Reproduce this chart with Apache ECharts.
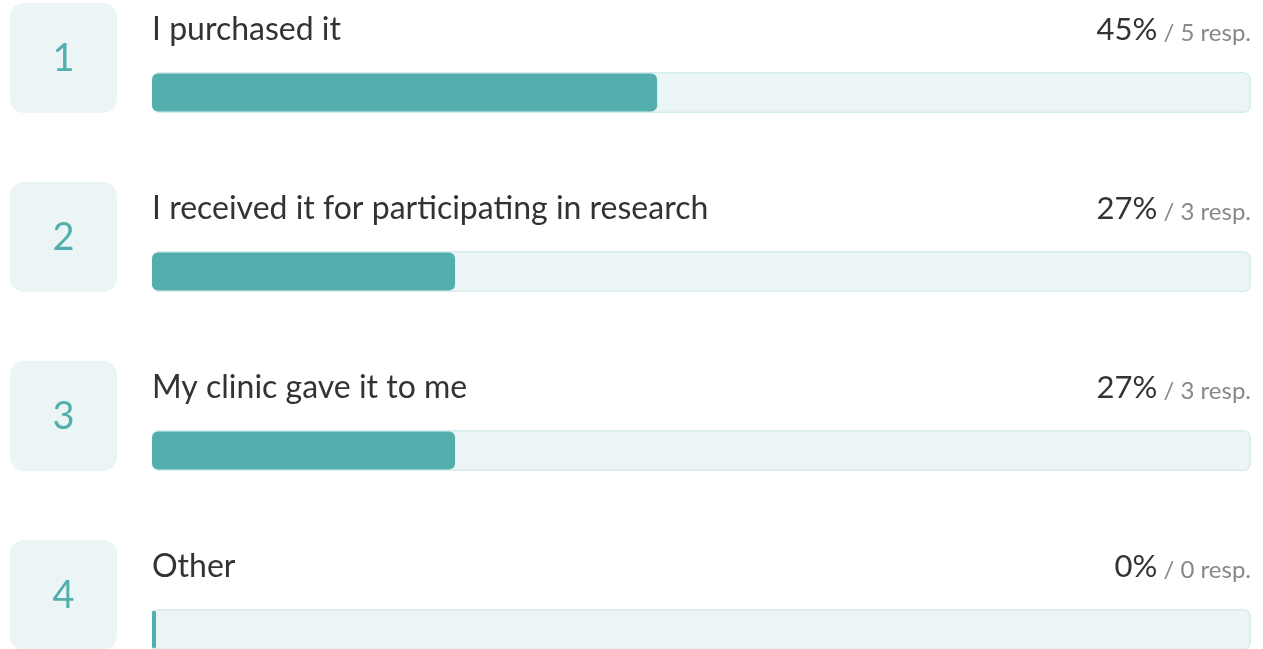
<!DOCTYPE html>
<html>
<head>
<meta charset="utf-8">
<script src="https://cdn.jsdelivr.net/npm/echarts@6/dist/echarts.min.js"></script>
<style>
html,body{margin:0;padding:0;background:#fff;}
#chart{width:1263px;height:649px;}
</style>
</head>
<body>
<div id="chart"></div>
<script>
const categories = ['I purchased it', 'I received it for participating in research', 'My clinic gave it to me', 'Other'];
const rankLabels = ['1', '2', '3', '4'];
const shareValues = [45.5, 27.3, 27.3, 0];
const percentLabels = ['45%', '27%', '27%', '0%'];
const responseCounts = [5, 3, 3, 0];
const trackMax = 99;

const FONT = 'Lato, "Noto Sans", sans-serif';
const TEAL = '#52AFAE';
const PALE = '#EBF5F6';

const chart = echarts.init(document.getElementById('chart'));
chart.setOption({
  animation: false,
  backgroundColor: '#ffffff',
  grid: { left: 152, top: 3, width: 1099, height: 716, outerBoundsMode: 'none', containLabel: false },
  xAxis: { type: 'value', min: 0, max: trackMax, show: false },
  yAxis: [
    { type: 'category', data: categories, inverse: true, show: false },
    { type: 'category', data: categories, inverse: true, show: false }
  ],
  series: [
    {
      type: 'bar',
      yAxisIndex: 0,
      data: categories.map(() => trackMax),
      barWidth: 41,
      silent: true,
      itemStyle: { color: PALE, borderColor: '#D7ECEC', borderWidth: 1.5, borderRadius: 7 },
      label: {
        show: true,
        formatter: '{b}',
        position: [0, -42],
        align: 'left',
        verticalAlign: 'middle',
        fontFamily: FONT,
        fontSize: 32,
        color: '#333333'
      },
      z: 1
    },
    {
      type: 'bar',
      yAxisIndex: 1,
      data: shareValues,
      barWidth: 38,
      barMinHeight: 4,
      itemStyle: { color: TEAL, borderRadius: 6 },
      z: 2
    },
    {
      type: 'custom',
      yAxisIndex: 0,
      clip: false,
      silent: true,
      data: categories.map((c, i) => [0, i]),
      encode: { x: 0, y: 1 },
      renderItem: function (params, api) {
        const i = api.value(1);
        const p = api.coord([0, i]);
        const pr = api.coord([trackMax, i]);
        const yc = p[1];
        return {
          type: 'group',
          children: [
            { type: 'rect', shape: { x: p[0] - 142, y: yc - 89.5, width: 107, height: 110, r: 14 }, style: { fill: PALE } },
            { type: 'text', style: { x: p[0] - 88.5, y: yc - 33.5, text: rankLabels[i], fill: TEAL, fontSize: 38, fontFamily: FONT, align: 'center', verticalAlign: 'middle' } },
            { type: 'text', style: {
                x: pr[0], y: yc - 62.8,
                text: '{p|' + percentLabels[i] + '}{r| / ' + responseCounts[i] + ' resp.}',
                align: 'right', verticalAlign: 'middle',
                rich: {
                  p: { fontSize: 31, lineHeight: 32, fontFamily: FONT, fill: '#333333', verticalAlign: 'bottom' },
                  r: { fontSize: 24, lineHeight: 25, fontFamily: FONT, fill: '#888888', verticalAlign: 'bottom' }
                }
            } }
          ]
        };
      },
      z: 3
    }
  ]
});
</script>
</body>
</html>
